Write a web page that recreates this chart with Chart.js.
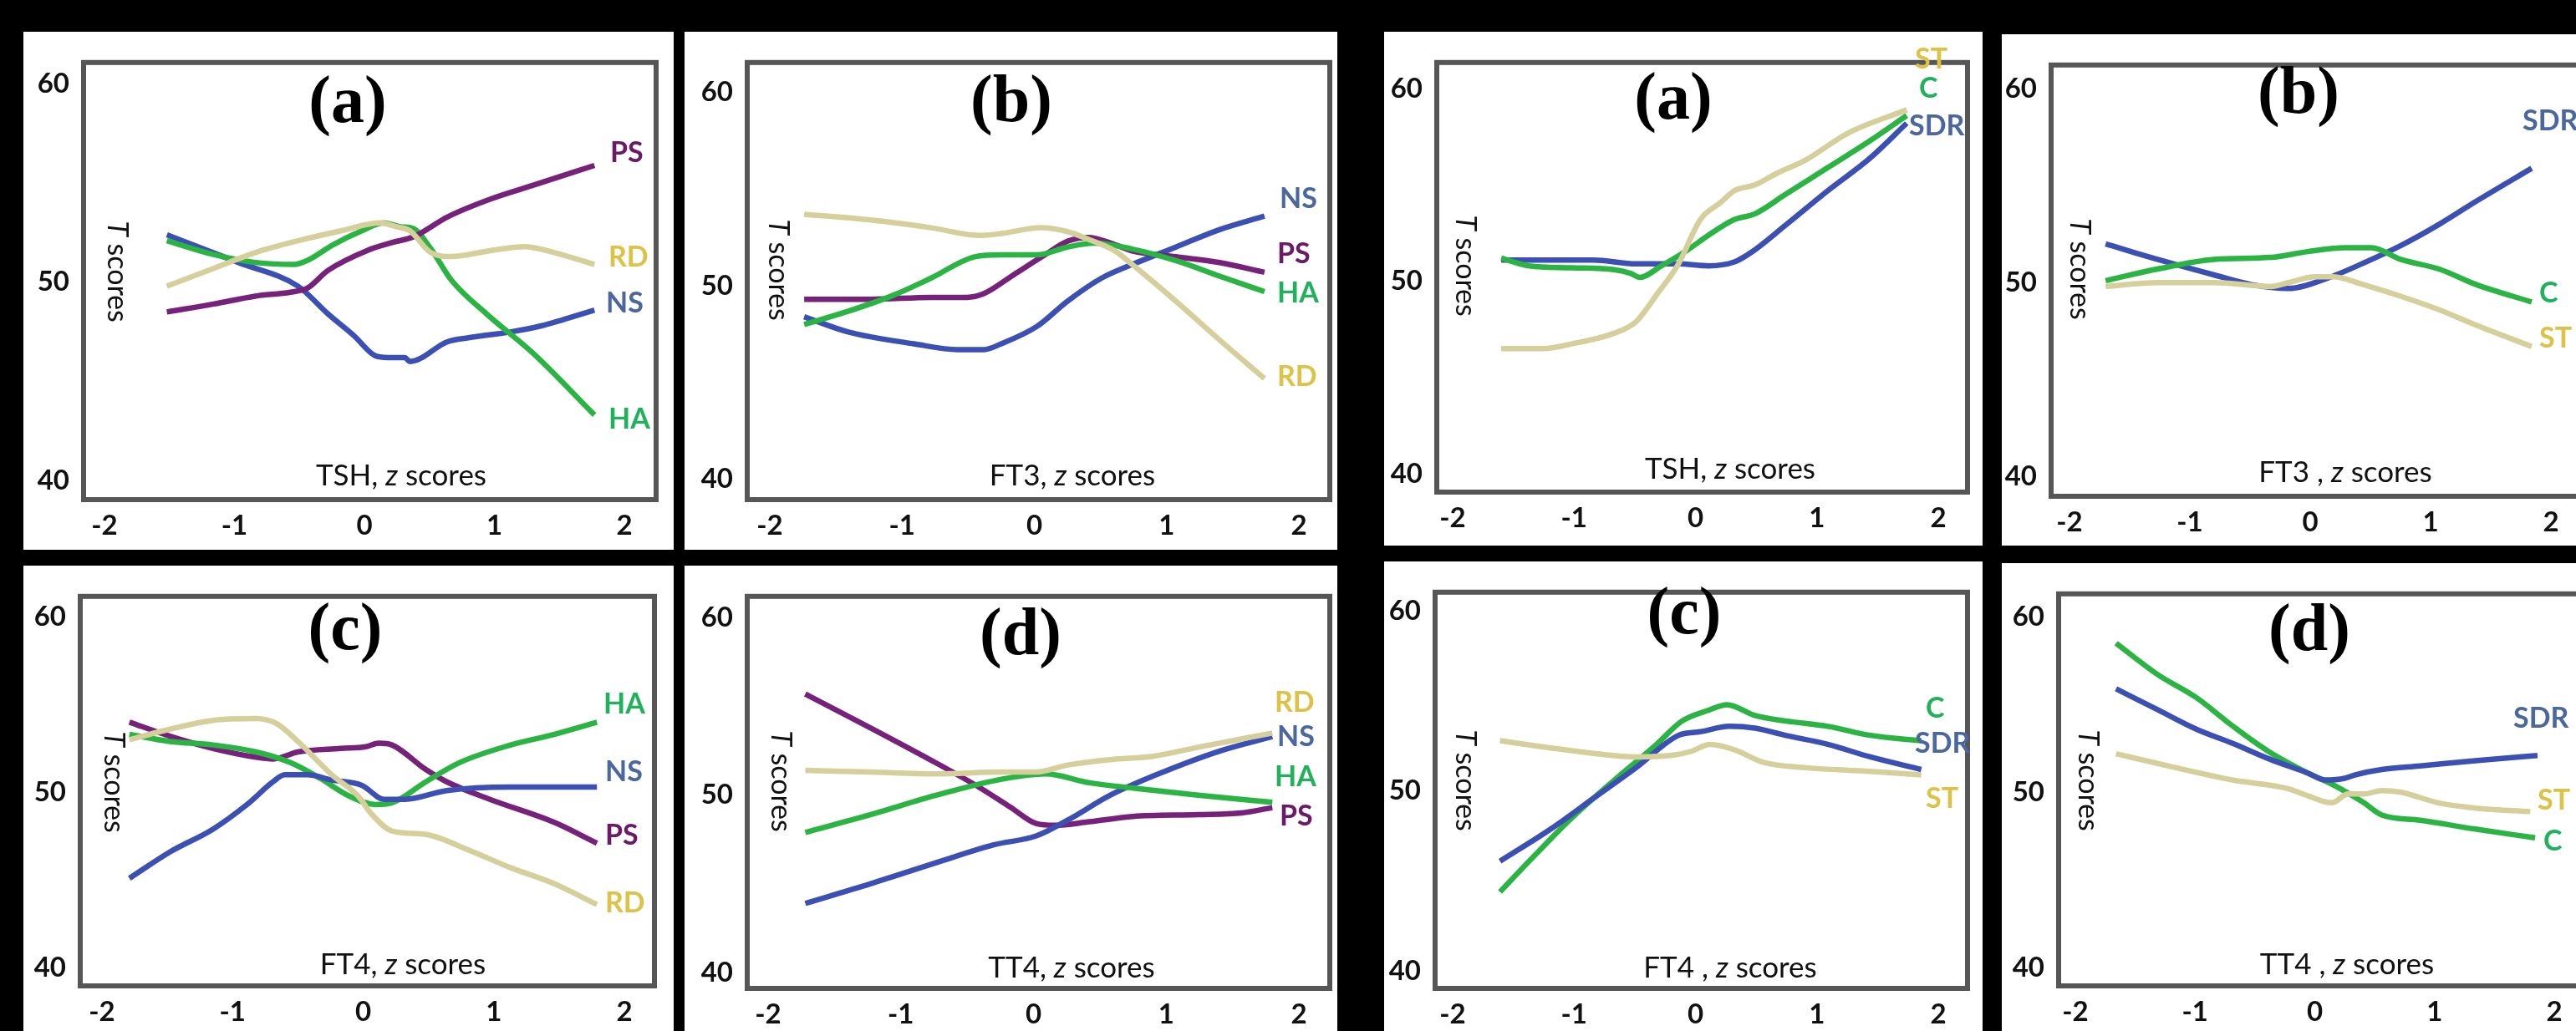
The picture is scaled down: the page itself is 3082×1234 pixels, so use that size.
<!DOCTYPE html>
<html>
<head>
<meta charset="utf-8">
<script src="https://cdn.jsdelivr.net/npm/chart.js@4.4.1/dist/chart.umd.min.js"></script>
<style>
  html, body { margin: 0; background: #000; overflow: hidden; width: 3082px; height: 1234px; }
  canvas { position: absolute; background: #fff; }
</style>
</head>
<body>
<script>
// ------------------------------------------------------------
// Read-off values: [z score, T score] along each curve.
// Left group: NS / PS / HA / RD.  Right group: SDR / C / ST.
// ------------------------------------------------------------

const xTicks = [-2, -1, 0, 1, 2];
const yTicks = [40, 50, 60];

// (a) TSH, left group
const aTSH_NS = [[-1.52,52.4],[-0.97,51.0],[-0.51,49.8],[-0.28,48.4],[-0.08,47.3],[0.08,46.3],[0.18,46.2],[0.31,46.2],[0.35,46.0],[0.64,47.0],[0.80,47.2],[1.13,47.5],[1.36,47.8],[1.77,48.6]];
const aTSH_HA = [[-1.52,52.1],[-1.16,51.4],[-0.84,51.0],[-0.54,50.9],[-0.44,51.1],[-0.24,51.9],[-0.02,52.6],[0.15,53.0],[0.28,52.8],[0.38,52.7],[0.51,51.7],[0.67,50.1],[0.94,48.4],[1.30,46.4],[1.77,43.3]];
const aTSH_PS = [[-1.52,48.5],[-1.16,48.9],[-0.84,49.3],[-0.57,49.5],[-0.44,49.7],[-0.28,50.6],[0.02,51.6],[0.21,52.0],[0.38,52.3],[0.64,53.3],[0.97,54.2],[1.30,54.9],[1.77,55.9]];
const aTSH_RD = [[-1.52,49.8],[-1.16,50.7],[-0.84,51.5],[-0.51,52.1],[-0.18,52.6],[0.12,53.0],[0.25,52.8],[0.35,52.6],[0.51,51.5],[0.67,51.3],[0.97,51.6],[1.23,51.8],[1.46,51.5],[1.77,50.9]];

// (b) FT3, left group
const bFT3_NS = [[-1.74,48.4],[-1.40,47.6],[-0.91,47.0],[-0.58,46.7],[-0.38,46.7],[-0.25,47.0],[0.02,47.9],[0.25,49.2],[0.51,50.4],[0.74,51.1],[1.07,52.0],[1.40,52.9],[1.74,53.6]];
const bFT3_PS = [[-1.74,49.3],[-1.24,49.3],[-0.78,49.4],[-0.51,49.4],[-0.38,49.6],[-0.15,50.6],[0.08,51.6],[0.25,52.3],[0.41,52.5],[0.58,52.2],[0.74,51.8],[1.07,51.5],[1.40,51.2],[1.74,50.7]];
const bFT3_HA = [[-1.74,48.0],[-1.40,48.7],[-1.07,49.5],[-0.78,50.4],[-0.45,51.5],[-0.25,51.6],[0.02,51.6],[0.25,52.0],[0.45,52.2],[0.74,51.9],[1.07,51.3],[1.40,50.5],[1.74,49.7]];
const bFT3_RD = [[-1.74,53.7],[-1.24,53.4],[-0.78,53.0],[-0.41,52.6],[-0.25,52.7],[0.05,53.0],[0.25,52.8],[0.41,52.4],[0.61,51.8],[0.74,51.1],[1.07,49.2],[1.40,47.2],[1.74,45.2]];

// (c) FT4, left group
const cFT4_NS = [[-1.79,45.1],[-1.48,46.6],[-1.15,47.9],[-0.89,49.3],[-0.69,50.6],[-0.60,51.0],[-0.43,51.0],[-0.24,50.7],[-0.01,50.4],[0.16,49.6],[0.32,49.6],[0.64,50.1],[1.13,50.3],[1.79,50.3]];
const cFT4_HA = [[-1.79,53.3],[-1.48,52.9],[-1.15,52.7],[-0.82,52.3],[-0.56,51.7],[-0.33,50.8],[-0.11,49.8],[0.09,49.3],[0.22,49.4],[0.48,50.6],[0.74,51.7],[1.13,52.7],[1.46,53.3],[1.79,54.0]];
const cFT4_PS = [[-1.79,54.0],[-1.48,53.2],[-1.15,52.5],[-0.82,52.0],[-0.69,51.9],[-0.50,52.3],[-0.17,52.5],[0.02,52.6],[0.12,52.8],[0.22,52.7],[0.48,51.3],[0.64,50.6],[0.97,49.6],[1.46,48.3],[1.79,47.1]];
const cFT4_RD = [[-1.79,53.0],[-1.48,53.6],[-1.15,54.1],[-0.82,54.2],[-0.66,53.9],[-0.50,52.9],[-0.24,51.0],[-0.04,49.8],[0.06,48.8],[0.22,47.8],[0.48,47.6],[0.81,46.7],[1.13,45.7],[1.46,44.8],[1.79,43.6]];

// (d) TT4, left group
const dTT4_NS = [[-1.72,43.9],[-1.23,45.0],[-0.73,46.2],[-0.30,47.2],[0.02,47.7],[0.26,48.6],[0.58,50.0],[0.91,51.1],[1.41,52.5],[1.80,53.3]];
const dTT4_HA = [[-1.72,47.9],[-1.23,48.9],[-0.73,50.0],[-0.24,50.9],[0.09,51.2],[0.42,50.7],[0.75,50.4],[1.24,50.0],[1.80,49.6]];
const dTT4_PS = [[-1.72,55.7],[-1.23,53.8],[-0.73,51.8],[-0.40,50.4],[-0.17,49.3],[0.02,48.4],[0.16,48.3],[0.42,48.5],[0.75,48.8],[1.24,48.9],[1.57,49.0],[1.80,49.3]];
const dTT4_RD = [[-1.72,51.4],[-1.23,51.3],[-0.73,51.2],[-0.24,51.3],[0.02,51.3],[0.26,51.7],[0.58,52.0],[0.91,52.2],[1.24,52.7],[1.80,53.5]];

// (a) TSH, right group
const eTSH_SDR = [[-1.60,51.1],[-1.19,51.1],[-0.84,51.1],[-0.49,50.9],[-0.14,50.9],[0.11,50.8],[0.32,51.0],[0.46,51.5],[0.74,52.9],[1.09,54.7],[1.44,56.4],[1.74,58.2]];
const eTSH_C   = [[-1.60,51.2],[-1.37,50.8],[-1.02,50.7],[-0.67,50.6],[-0.53,50.4],[-0.46,50.2],[-0.28,50.8],[-0.07,51.6],[0.11,52.4],[0.32,53.2],[0.49,53.5],[0.74,54.5],[1.09,55.9],[1.44,57.3],[1.74,58.6]];
const eTSH_ST  = [[-1.60,46.5],[-1.26,46.5],[-0.98,46.8],[-0.67,47.3],[-0.49,47.9],[-0.32,49.3],[-0.14,50.9],[0.04,53.2],[0.21,54.1],[0.32,54.7],[0.49,55.0],[0.67,55.6],[0.91,56.3],[1.26,57.7],[1.74,58.9]];

// (b) FT3, right group
const fFT3_SDR = [[-1.70,52.0],[-1.27,51.2],[-0.80,50.4],[-0.49,49.9],[-0.18,49.7],[0.13,50.2],[0.44,51.0],[0.75,51.9],[1.07,53.0],[1.38,54.2],[1.84,55.9]];
const fFT3_C   = [[-1.70,50.1],[-1.27,50.7],[-0.80,51.2],[-0.33,51.3],[-0.02,51.6],[0.29,51.8],[0.51,51.8],[0.75,51.2],[1.07,50.7],[1.38,49.9],[1.84,49.0]];
const fFT3_ST  = [[-1.70,49.8],[-1.27,50.0],[-0.80,50.0],[-0.33,49.8],[-0.18,50.0],[0.04,50.3],[0.19,50.3],[0.44,49.9],[0.75,49.3],[1.07,48.6],[1.38,47.8],[1.84,46.7]];

// (c) FT4, right group
const gFT4_SDR = [[-1.61,46.1],[-1.19,47.9],[-0.84,49.6],[-0.49,51.3],[-0.14,53.1],[0.04,53.3],[0.28,53.6],[0.49,53.5],[0.74,53.1],[1.09,52.6],[1.44,51.9],[1.86,51.2]];
const gFT4_C   = [[-1.61,44.4],[-1.37,46.1],[-1.02,48.5],[-0.67,50.6],[-0.32,52.6],[-0.11,53.9],[0.11,54.5],[0.26,54.8],[0.49,54.2],[0.74,53.9],[1.09,53.6],[1.44,53.1],[1.86,52.8]];
const gFT4_ST  = [[-1.61,52.8],[-1.19,52.4],[-0.84,52.1],[-0.49,51.9],[-0.18,52.0],[-0.04,52.2],[0.12,52.6],[0.32,52.3],[0.56,51.6],[0.91,51.3],[1.44,51.1],[1.86,50.9]];

// (d) TT4, right group
const hTT4_SDR = [[-1.66,55.9],[-1.31,54.7],[-0.99,53.6],[-0.69,52.8],[-0.38,51.9],[-0.06,51.1],[0.09,50.7],[0.25,50.8],[0.34,51.0],[0.56,51.3],[0.88,51.5],[1.34,51.8],[1.86,52.1]];
const hTT4_C   = [[-1.66,58.5],[-1.31,56.7],[-0.99,55.4],[-0.69,53.8],[-0.38,52.3],[-0.06,51.1],[0.16,50.4],[0.41,49.4],[0.56,48.7],[0.88,48.4],[1.34,47.9],[1.84,47.4]];
const hTT4_ST  = [[-1.66,52.2],[-1.16,51.4],[-0.69,50.7],[-0.22,50.2],[-0.06,49.8],[0.14,49.4],[0.28,49.9],[0.41,49.9],[0.56,50.1],[0.72,50.0],[1.03,49.4],[1.34,49.1],[1.80,48.9]];

// ------------------------------------------------------------
// styling
// ------------------------------------------------------------
const LINE = { NS: "#3b50b2", SDR: "#3b50b2", HA: "#2bb443", C: "#2bb443", PS: "#76217a", RD: "#d5cf9c", ST: "#d5cf9c" };
const TEXT = { NS: "#4a679e", SDR: "#4a679e", HA: "#1fb25a", C: "#1fb25a", PS: "#6a1b68", RD: "#dcc246", ST: "#dcc246" };
const SANS = "Lato, 'Open Sans', sans-serif";

// page layout (pixels): white card, plot box (border centre), tick anchors, annotations
const panels = [
  { card: [28, 38, 806, 658],   box: [100, 55, 785, 598],  xpx: [125, 747],   ypx: [82, 574],
    letter: "(a)", letterAt: [416, 125], axis: "TSH", sep: ", ", axisAt: [480, 570], tAt: [140, 325],
    series: [["RD", aTSH_RD, 728, 308], ["PS", aTSH_PS, 730, 183], ["HA", aTSH_HA, 728, 502], ["NS", aTSH_NS, 725, 363]] },
  { card: [819, 38, 1600, 658], box: [894, 42, 1591, 598], xpx: [921, 1554],  ypx: [80, 572],
    letter: "(b)", letterAt: [1210, 124], axis: "FT3", sep: ", ", axisAt: [1283, 570], tAt: [931, 323],
    series: [["RD", bFT3_RD, 1528, 451], ["HA", bFT3_HA, 1528, 351], ["PS", bFT3_PS, 1528, 304], ["NS", bFT3_NS, 1531, 238]] },
  { card: [1656, 38, 2372, 653], box: [1719, 45, 2354, 589], xpx: [1738, 2319], ypx: [78, 566],
    letter: "(a)", letterAt: [2002, 121], axis: "TSH", sep: ", ", axisAt: [2070, 562], tAt: [1753, 318],
    series: [["ST", eTSH_ST, 2291, 71], ["C", eTSH_C, 2296, 106], ["SDR", eTSH_SDR, 2284, 151]] },
  { card: [2395, 41, 3120, 653], box: [2454, 50, 3100, 594], xpx: [2476, 3052], ypx: [80, 569],
    letter: "(b)", letterAt: [2750, 114], axis: "FT3", sep: " , ", axisAt: [2806, 566], tAt: [2488, 322],
    series: [["ST", fFT3_ST, 3038, 405], ["C", fFT3_C, 3038, 351], ["SDR", fFT3_SDR, 3018, 145]] },
  { card: [28, 677, 806, 1234], box: [96, 686, 783, 1180], xpx: [122, 747],   ypx: [712, 1157],
    letter: "(c)", letterAt: [413, 756], axis: "FT4", sep: ", ", axisAt: [482, 1155], tAt: [136, 936],
    series: [["RD", cFT4_RD, 724, 1081], ["NS", cFT4_NS, 724, 924], ["HA", cFT4_HA, 722, 843], ["PS", cFT4_PS, 724, 1000]] },
  { card: [819, 677, 1600, 1234], box: [894, 687, 1591, 1183], xpx: [919, 1554], ypx: [714, 1163],
    letter: "(d)", letterAt: [1221, 762], axis: "TT4", sep: ", ", axisAt: [1282, 1159], tAt: [934, 935],
    series: [["RD", dTT4_RD, 1525, 841], ["HA", dTT4_HA, 1525, 930], ["NS", dTT4_NS, 1528, 882], ["PS", dTT4_PS, 1531, 977]] },
  { card: [1656, 672, 2372, 1234], box: [1717, 684, 2354, 1183], xpx: [1738, 2319], ypx: [708, 1161],
    letter: "(c)", letterAt: [2015, 737], axis: "FT4", sep: " , ", axisAt: [2070, 1159], tAt: [1753, 934],
    series: [["ST", gFT4_ST, 2304, 956], ["SDR", gFT4_SDR, 2291, 890], ["C", gFT4_C, 2304, 848]] },
  { card: [2395, 674, 3120, 1234], box: [2463, 687, 3100, 1180], xpx: [2483, 3056], ypx: [716, 1157],
    letter: "(d)", letterAt: [2763, 757], axis: "TT4", sep: " , ", axisAt: [2808, 1155], tAt: [2498, 934],
    series: [["ST", hTT4_ST, 3036, 958], ["SDR", hTT4_SDR, 3007, 860], ["C", hTT4_C, 3043, 1007]] },
];

// draws a run of [text, italic] pieces centred on (cx, cy)
function richText(ctx, parts, cx, cy, size, weight) {
  const fonts = parts.map(p => `${p[1] ? "italic " : ""}${weight} ${size}px ${SANS}`);
  let total = 0;
  const widths = parts.map((p, i) => { ctx.font = fonts[i]; const w = ctx.measureText(p[0]).width; total += w; return w; });
  let x = cx - total / 2;
  ctx.textBaseline = "middle";
  ctx.textAlign = "left";
  parts.forEach((p, i) => { ctx.font = fonts[i]; ctx.fillText(p[0], x, cy); x += widths[i]; });
}

panels.forEach(p => {
  const [cx0, cy0, cx1, cy1] = p.card;
  const [bl, bt, br, bb] = p.box;
  const cv = document.createElement("canvas");
  cv.width = cx1 - cx0; cv.height = cy1 - cy0;
  cv.style.left = cx0 + "px"; cv.style.top = cy0 + "px";
  document.body.appendChild(cv);

  const xu = (p.xpx[1] - p.xpx[0]) / 4;
  const yu = (p.ypx[1] - p.ypx[0]) / 20;
  const xMin = -2 - (p.xpx[0] - bl) / xu, xMax = 2 + (br - p.xpx[1]) / xu;
  const yMax = 60 + (p.ypx[0] - bt) / yu, yMin = 40 - (bb - p.ypx[1]) / yu;
  const tickFont = { family: SANS, weight: "bold", size: 33 };

  const decor = {
    id: "decor",
    beforeDatasetsDraw(chart) {
      const { ctx, chartArea: a } = chart;
      ctx.save();
      ctx.strokeStyle = "#565656";
      ctx.lineWidth = 6;
      ctx.strokeRect(a.left, a.top, a.right - a.left, a.bottom - a.top);
      ctx.restore();
    },
    afterDatasetsDraw(chart) {
      const ctx = chart.ctx;
      ctx.save();
      ctx.fillStyle = "#000";
      ctx.font = `bold 80px 'Liberation Serif', 'Times New Roman', serif`;
      ctx.textAlign = "center"; ctx.textBaseline = "middle";
      ctx.fillText(p.letter, p.letterAt[0] - cx0, p.letterAt[1] - cy0);

      ctx.fillStyle = "#111";
      richText(ctx, [[p.axis + p.sep, false], ["z", true], [" scores", false]], p.axisAt[0] - cx0, p.axisAt[1] - cy0, 35, "normal");

      ctx.save();
      ctx.translate(p.tAt[0] - cx0, p.tAt[1] - cy0);
      ctx.rotate(Math.PI / 2);
      richText(ctx, [["T", true], [" scores", false]], 0, 0, 34, "normal");
      ctx.restore();

      ctx.font = `bold 34px ${SANS}`;
      ctx.textAlign = "left"; ctx.textBaseline = "middle";
      p.series.forEach(s => { ctx.fillStyle = TEXT[s[0]]; ctx.fillText(s[0], s[2] - cx0, s[3] - cy0); });
      ctx.restore();
    }
  };

  new Chart(cv, {
    type: "line",
    data: {
      datasets: p.series.map(s => ({
        label: s[0],
        data: s[1].map(d => ({ x: d[0], y: d[1] })),
        borderColor: LINE[s[0]],
        borderWidth: 6.5,
        pointRadius: 0,
        cubicInterpolationMode: "monotone",
        fill: false,
      }))
    },
    options: {
      responsive: false, animation: false, devicePixelRatio: 1,
      layout: { autoPadding: false, padding: { left: 0, top: bt - cy0, right: cx1 - br, bottom: 0 } },
      plugins: { legend: { display: false }, tooltip: { enabled: false } },
      scales: {
        x: {
          type: "linear", min: xMin, max: xMax,
          afterBuildTicks: s => { s.ticks = xTicks.map(v => ({ value: v })); },
          afterFit: s => { s.height = cy1 - bb; },
          grid: { display: false, drawTicks: false }, border: { display: false },
          ticks: { font: tickFont, color: "#111", padding: 12, maxRotation: 0, autoSkip: false, callback: v => String(v) }
        },
        y: {
          type: "linear", min: yMin, max: yMax,
          afterBuildTicks: s => { s.ticks = yTicks.map(v => ({ value: v })); },
          afterFit: s => { s.width = bl - cx0; },
          grid: { display: false, drawTicks: false }, border: { display: false },
          ticks: { font: tickFont, color: "#111", padding: 17, autoSkip: false, callback: v => String(v) }
        }
      }
    },
    plugins: [decor]
  });
});
</script>
</body>
</html>
